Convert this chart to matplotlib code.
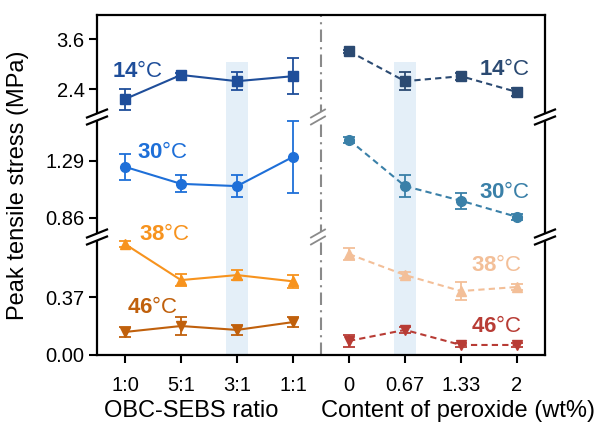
import matplotlib
matplotlib.use("Agg")
import matplotlib.pyplot as plt
from matplotlib.lines import Line2D
from matplotlib.patches import Polygon

plt.rcParams['font.family'] = 'Liberation Sans'
plt.rcParams['mathtext.fontset'] = 'custom'
plt.rcParams['mathtext.rm'] = 'Liberation Sans'
plt.rcParams['mathtext.bf'] = 'Liberation Sans:bold'

# data
ratio_ticks = ['1:0', '5:1', '3:1', '1:1']
peroxide_ticks = ['0', '0.67', '1.33', '2']

ratio_14 = [2.16, 2.74, 2.59, 2.71]
ratio_14_err = [0.25, 0.04, 0.22, 0.43]
ratio_30 = [1.245, 1.117, 1.10, 1.32]
ratio_30_err = [0.10, 0.065, 0.08, 0.27]
ratio_38 = [0.708, 0.478, 0.51, 0.47]
ratio_38_err = [0.02, 0.04, 0.03, 0.04]
ratio_46 = [0.147, 0.185, 0.16, 0.21]
ratio_46_err = [0.03, 0.06, 0.03, 0.03]

perox_14 = [3.31, 2.59, 2.71, 2.33]
perox_14_err = [0.04, 0.22, 0.08, 0.10]
perox_30 = [1.448, 1.10, 0.99, 0.868]
perox_30_err = [0.02, 0.08, 0.06, 0.02]
perox_38 = [0.644, 0.51, 0.408, 0.434]
perox_38_err = [0.04, 0.02, 0.055, 0.02]
perox_46 = [0.09, 0.16, 0.064, 0.064]
perox_46_err = [0.04, 0.02, 0.01, 0.01]

xl = [0, 1, 2, 3]
xr = [4, 5, 6, 7]

W, H = 598, 430
fig = plt.figure(figsize=(W / 100, H / 100), dpi=100)


def fx(px):
    return px / W


def fy(py):
    return 1 - py / H


L, R = 97, 545
ax_top = fig.add_axes([fx(L), fy(117), fx(R) - fx(L), fy(15) - fy(117)])
ax_mid = fig.add_axes([fx(L), fy(237), fx(R) - fx(L), fy(117) - fy(237)])
ax_bot = fig.add_axes([fx(L), fy(355), fx(R) - fx(L), fy(237) - fy(355)])
axes = [ax_top, ax_mid, ax_bot]

ax_top.set_ylim(1.73, 4.18)
ax_mid.set_ylim(0.717, 1.62)
ax_bot.set_ylim(0, 0.753)

shade = '#e4eff8'
for ax in axes:
    ax.patch.set_visible(False)
    ax.set_xlim(-0.5, 7.5)
    ax.axvline(3.5, color='#8a8a8a', lw=1.5, ls=(0, (6, 2.5, 1, 2.5)), zorder=1)
    for s in ax.spines.values():
        s.set_linewidth(1.6)
    ax.tick_params(axis='y', labelsize=14.5, length=6, width=1.5, pad=3)
    ax.tick_params(axis='x', length=6, width=1.5)
ax_top.axvspan(1.81, 2.19, ymax=0.54, color=shade, lw=0, zorder=0)
ax_top.axvspan(4.81, 5.19, ymax=0.54, color=shade, lw=0, zorder=0)
for ax in [ax_mid, ax_bot]:
    ax.axvspan(1.81, 2.19, color=shade, lw=0, zorder=0)
    ax.axvspan(4.81, 5.19, color=shade, lw=0, zorder=0)

ax_top.spines['bottom'].set_visible(False)
ax_mid.spines['bottom'].set_visible(False)
ax_mid.spines['top'].set_visible(False)
ax_bot.spines['top'].set_visible(False)
for ax in [ax_top, ax_mid]:
    ax.tick_params(axis='x', bottom=False, labelbottom=False)

ax_top.set_yticks([2.4, 3.6], ['2.4', '3.6'])
ax_mid.set_yticks([0.86, 1.29], ['0.86', '1.29'])
ax_bot.set_yticks([0.0, 0.37], ['0.00', '0.37'])
ax_bot.set_xticks(xl + xr, ratio_ticks + peroxide_ticks)
ax_bot.tick_params(axis='x', labelsize=14.5, pad=9)


def series(ax, x, y, e, color, marker, dashed):
    ls = (0, (3, 2)) if dashed else '-'
    ax.errorbar(x, y, yerr=e, color=color, marker=marker, ms=7, lw=1.5,
                ls=ls, capsize=4, capthick=1.3, elinewidth=1.3, zorder=3)


c14l, c30l, c38l, c46l = '#1f4e9a', '#1e6fd8', '#f7931e', '#c0600c'
c14r, c30r, c38r, c46r = '#2b4a72', '#3a80a8', '#f3bf98', '#b83c35'

series(ax_top, xl, ratio_14, ratio_14_err, c14l, 's', False)
series(ax_top, xr, perox_14, perox_14_err, c14r, 's', True)
series(ax_mid, xl, ratio_30, ratio_30_err, c30l, 'o', False)
series(ax_mid, xr, perox_30, perox_30_err, c30r, 'o', True)
series(ax_bot, xl, ratio_38, ratio_38_err, c38l, '^', False)
series(ax_bot, xr, perox_38, perox_38_err, c38r, '^', True)
series(ax_bot, xl, ratio_46, ratio_46_err, c46l, 'v', False)
series(ax_bot, xr, perox_46, perox_46_err, c46r, 'v', True)


def temp_label(ax, x, y, t, color, ha):
    ax.text(x, y, r'$\mathbf{' + t + '}$°C', color=color, fontsize=16,
            ha=ha, va='center', zorder=5)


temp_label(ax_top, -0.24, 2.83, '14', c14l, 'left')
temp_label(ax_mid, 0.21, 1.35, '30', c30l, 'left')
temp_label(ax_bot, 0.25, 0.766, '38', c38l, 'left')
temp_label(ax_bot, 0.03, 0.30, '46', c46l, 'left')
temp_label(ax_top, 7.22, 2.88, '14', c14r, 'right')
temp_label(ax_mid, 7.22, 1.05, '30', c30r, 'right')
temp_label(ax_bot, 7.09, 0.574, '38', c38r, 'right')
temp_label(ax_bot, 7.09, 0.185, '46', c46r, 'right')


def break_mark(px, py, color, half=10, lw=1.6):
    d = 3.5
    poly = Polygon([(fx(px - half), fy(py + 4 - d)), (fx(px + half), fy(py - 4 - d)),
                    (fx(px + half), fy(py - 4 + d)), (fx(px - half), fy(py + 4 + d))],
                   closed=True, transform=fig.transFigure, color='white', lw=0, zorder=10)
    fig.add_artist(poly)
    for off in (-d, d):
        fig.add_artist(Line2D([fx(px - half), fx(px + half)],
                              [fy(py + 4 + off), fy(py - 4 + off)],
                              transform=fig.transFigure, color=color, lw=lw, zorder=11))


for py in (117, 237):
    break_mark(L, py, 'black')
    break_mark(R, py, 'black')
    break_mark(318, py, '#8a8a8a', half=7, lw=1.3)

fig.text(fx(191), fy(411), 'OBC-SEBS ratio', fontsize=17, ha='center', va='center')
fig.text(fx(458), fy(411), 'Content of peroxide (wt%)', fontsize=17, ha='center', va='center')
fig.text(fx(18), fy(185), 'Peak tensile stress (MPa)', fontsize=17, rotation=90,
         ha='center', va='center')

fig.savefig('out.png', dpi=100)
